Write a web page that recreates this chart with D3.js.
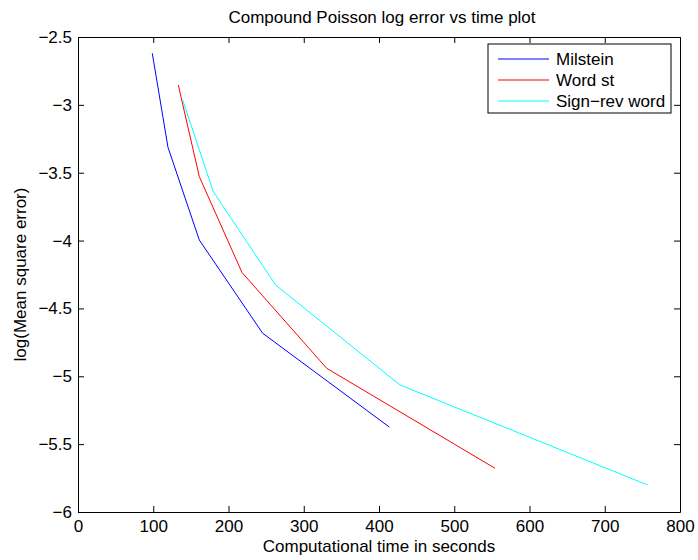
<!DOCTYPE html>
<html>
<head>
<meta charset="utf-8">
<script src="https://cdn.jsdelivr.net/npm/d3@7"></script>
<style>
  body { margin: 0; background: #fff; }
  svg { display: block; font-family: "Liberation Sans", Arial, sans-serif; }
</style>
</head>
<body>
<svg id="chart" width="698" height="560"></svg>
<script>
// Data
const seriesNames = ['Milstein', 'Word st', 'Sign\u2212rev word'];
const seriesColors = ['#0000ff', '#ff0000', '#00ffff'];

const milsteinTime = [98.7, 119.6, 161.2, 245.4, 413.7];
const milsteinErr = [-2.62, -3.313, -3.996, -4.683, -5.374];

const wordTime = [133.3, 161.2, 217.9, 330.5, 554.2];
const wordErr = [-2.854, -3.529, -4.235, -4.941, -5.678];

const signRevTime = [139.1, 179.8, 262.7, 427.9, 757.1];
const signRevErr = [-2.964, -3.64, -4.328, -5.064, -5.801];

const xTicks = [0, 100, 200, 300, 400, 500, 600, 700, 800];
const yTicks = [-2.5, -3, -3.5, -4, -4.5, -5, -5.5, -6];

const width = 698;
const height = 560;
const margin = { top: 37, right: 18, bottom: 48, left: 78 };
const fontSize = 17;

const svg = d3.select('#chart');

const x = d3.scaleLinear().domain([0, 800]).range([margin.left, width - margin.right]);
const y = d3.scaleLinear().domain([-6, -2.5]).range([height - margin.bottom, margin.top]);

const fmt = (d) => String(d).replace('-', '\u2212');
const tickLen = 6;

// box axes with inward ticks on all four sides
svg.append('g')
  .attr('transform', `translate(0,${y(-6)})`)
  .call(d3.axisBottom(x).tickValues(xTicks).tickFormat(fmt).tickSizeInner(-tickLen).tickSizeOuter(0).tickPadding(8));

svg.append('g')
  .attr('transform', `translate(0,${y(-2.5)})`)
  .call(d3.axisTop(x).tickValues(xTicks).tickFormat('').tickSizeInner(-tickLen).tickSizeOuter(0));

svg.append('g')
  .attr('transform', `translate(${x(0)},0)`)
  .call(d3.axisLeft(y).tickValues(yTicks).tickFormat(fmt).tickSizeInner(-tickLen).tickSizeOuter(0).tickPadding(6));

svg.append('g')
  .attr('transform', `translate(${x(800)},0)`)
  .call(d3.axisRight(y).tickValues(yTicks).tickFormat('').tickSizeInner(-tickLen).tickSizeOuter(0));

svg.selectAll('.domain').attr('stroke', '#000').attr('stroke-width', 1);
svg.selectAll('.tick line').attr('stroke', '#000');
svg.selectAll('.tick text')
  .attr('font-size', fontSize)
  .attr('fill', '#000')
  .attr('font-family', '"Liberation Sans", Arial, sans-serif');

// lines
const series = [
  { time: milsteinTime, err: milsteinErr },
  { time: wordTime, err: wordErr },
  { time: signRevTime, err: signRevErr }
];

const line = d3.line().x((d) => x(d[0])).y((d) => y(d[1]));

series.forEach((s, i) => {
  svg.append('path')
    .datum(d3.zip(s.time, s.err))
    .attr('fill', 'none')
    .attr('stroke', seriesColors[i])
    .attr('stroke-width', 1)
    .attr('d', line);
});

// title and labels
svg.append('text')
  .attr('x', (x(0) + x(800)) / 2 + 3)
  .attr('y', 23)
  .attr('text-anchor', 'middle')
  .attr('font-size', fontSize)
  .text('Compound Poisson log error vs time plot');

svg.append('text')
  .attr('x', (x(0) + x(800)) / 2)
  .attr('y', 552)
  .attr('text-anchor', 'middle')
  .attr('font-size', fontSize)
  .text('Computational time in seconds');

svg.append('text')
  .attr('transform', `translate(26,${(y(-2.5) + y(-6)) / 2}) rotate(-90)`)
  .attr('text-anchor', 'middle')
  .attr('font-size', fontSize)
  .text('log(Mean square error)');

// legend
const legend = svg.append('g').attr('transform', 'translate(488,44)');

legend.append('rect')
  .attr('width', 183)
  .attr('height', 69)
  .attr('fill', '#fff')
  .attr('stroke', '#000');

const items = legend.selectAll('.legend-element')
  .data(seriesNames)
  .enter()
  .append('g')
  .attr('class', 'legend-element')
  .attr('transform', (d, i) => `translate(0,${15 + i * 21})`);

items.append('line')
  .attr('x1', 10)
  .attr('x2', 61)
  .attr('stroke', (d) => seriesColors[seriesNames.indexOf(d)])
  .attr('stroke-width', 1);

items.append('text')
  .attr('x', 68)
  .attr('y', 6)
  .attr('font-size', fontSize)
  .text((d) => d);
</script>
</body>
</html>
